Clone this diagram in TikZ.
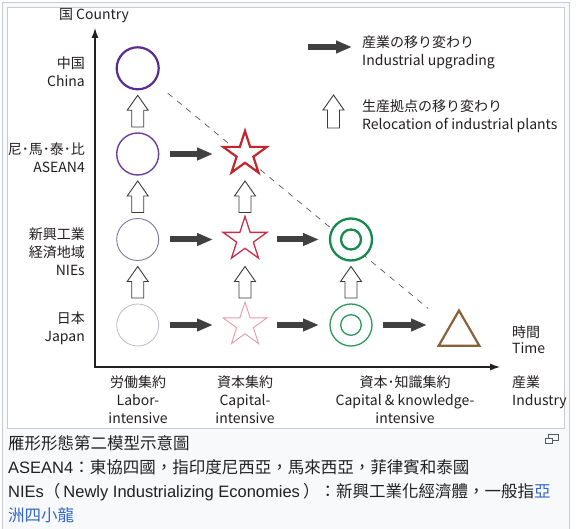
\documentclass[tikz,border=0pt]{standalone}
\usepackage{fontspec}
\setmainfont{Noto Sans CJK JP}
\newfontfamily\capcjk{Noto Sans CJK TC}
\newfontfamily\caplatin{Liberation Sans}
\usepackage{tikz}
\usetikzlibrary{positioning,arrows.meta,shapes.geometric,calc}

\definecolor{inkgrey}{HTML}{231F20}
\definecolor{arrowgrey}{HTML}{404040}
\definecolor{outlinegrey}{HTML}{3A3A3A}
\definecolor{framegrey}{HTML}{C8CCD1}
\definecolor{thumbbg}{HTML}{F8F9FA}
\definecolor{captext}{HTML}{202122}
\definecolor{linkblue}{HTML}{3366CC}
\definecolor{icongrey}{HTML}{54595D}
\definecolor{purpleA}{HTML}{5B2C8F}
\definecolor{purpleB}{HTML}{6B3FA0}
\definecolor{purpleC}{HTML}{7D7AA0}
\definecolor{purpleD}{HTML}{BDBACB}
\definecolor{redA}{HTML}{C1272D}
\definecolor{redB}{HTML}{C8304A}
\definecolor{redC}{HTML}{E59AA8}
\definecolor{greenA}{HTML}{178A4C}
\definecolor{greenB}{HTML}{2E9A5A}
\definecolor{brownA}{HTML}{8A6239}

% hollow block arrow from #1 (foot) to #2 (tip)
\newcommand{\relocarrow}[2]{%
  \draw[relocate] let \p1=#1, \p2=#2 in
    (\x1-6pt,\y1) -- (\x1-6pt,\y2-15pt) -- (\x1-10.5pt,\y2-15pt) -- (\x1,\y2)
    -- (\x1+10.5pt,\y2-15pt) -- (\x1+6pt,\y2-15pt) -- (\x1+6pt,\y1) -- cycle;}

\tikzset{
  lbl/.style={text=inkgrey, inner sep=0pt, font=\fontsize{14}{18}\selectfont},
  captionline/.style={text=captext, inner sep=0pt, font=\fontsize{16.5}{20}\selectfont},
  labour/.style={circle, fill=white, inner sep=0pt, minimum size=42pt},
  capital/.style={star, star points=5, star point ratio=2.618, fill=white, inner sep=0pt, minimum size=46pt},
  knowledge/.style={circle, fill=white, inner sep=0pt, minimum size=42pt},
  mature/.style={regular polygon, regular polygon sides=3, draw=brownA, line width=2.2pt, fill=white, inner sep=0pt, minimum size=47pt},
  upgrade/.style={draw=arrowgrey, line width=6pt, -{Triangle[length=16pt,width=12pt]}},
  between/.style={shorten <=32pt, shorten >=32pt},
  relocate/.style={draw=outlinegrey, line width=0.9pt, fill=white, line join=miter},
  axis/.style={draw=inkgrey, line width=1.2pt},
  trend/.style={draw=inkgrey!75, line width=0.7pt, dash pattern=on 6pt off 6pt}
}

\begin{document}
\begin{tikzpicture}[x=1pt,y=-1pt]
		\useasboundingbox (0,0) rectangle (576,529);

		%frame
		\fill[white] (0,0) rectangle (576,529);
		\draw[framegrey, fill=thumbbg] (2,2) rectangle (569.5,535);
		\draw[framegrey, fill=white] (7,7) rectangle (564.5,428);

		%axes
		\coordinate (ytip) at (95,28);
		\coordinate (origin) at (95,367);
		\coordinate (xtip) at (500,367);
		\draw[axis, {Latex[length=10pt,width=7pt]}-{Latex[length=10pt,width=7pt]}] (ytip) -- (origin) -- (xtip);

		%trend line
		\coordinate (cnpos) at (137.7,68.3);
		\coordinate (jp4pos) at (459,334);
		\draw[trend, shorten <=39pt, shorten >=40pt] (cnpos) -- (jp4pos);

		%labour intensive
		\node[labour, draw=purpleA, line width=2.2pt] (cn) at (cnpos) {};
		\node[labour, draw=purpleB, line width=1.4pt] (as1) at (137.7,154) {};
		\node[labour, draw=purpleC, line width=0.9pt] (ni1) at (137.7,239.5) {};
		\node[labour, draw=purpleD, line width=0.8pt] (jp1) at (137.7,325) {};

		%capital intensive
		\node[capital, draw=redA, line width=2.2pt] (as2) at (245,154) {};
		\node[capital, draw=redB, line width=1.3pt] (ni2) at (245,239.5) {};
		\node[capital, draw=redC, line width=0.9pt] (jp2) at (245,325) {};

		%capital and knowledge intensive
		\node[knowledge, draw=greenA, line width=2.3pt] (ni3) at (351,239.5) {};
		\draw[greenA, line width=2.3pt] (ni3.center) circle (10pt);
		\node[knowledge, draw=greenB, line width=1.3pt] (jp3) at (351,325) {};
		\draw[greenB, line width=1.3pt] (jp3.center) circle (10.3pt);

		%mature
		\node[mature] (jp4) at (jp4pos) {};

		%upgrading
		\draw[upgrade, between] (as1.center) -- (as2.center);
		\draw[upgrade, between] (ni1.center) -- (ni2.center);
		\draw[upgrade, between] (ni2.center) -- (ni3.center);
		\draw[upgrade, between] (jp1.center) -- (jp2.center);
		\draw[upgrade, between] (jp2.center) -- (jp3.center);
		\draw[upgrade, between] (jp3.center) -- (jp3.center -| jp4.center);

		%relocation
		\relocarrow{($(jp1.center)!27pt!(ni1.center)$)}{($(ni1.center)!27pt!(jp1.center)$)}
		\relocarrow{($(ni1.center)!27pt!(as1.center)$)}{($(as1.center)!27pt!(ni1.center)$)}
		\relocarrow{($(as1.center)!27pt!(cn.center)$)}{($(cn.center)!27pt!(as1.center)$)}
		\relocarrow{($(jp2.center)!27pt!(ni2.center)$)}{($(ni2.center)!27pt!(jp2.center)$)}
		\relocarrow{($(ni2.center)!27pt!(as2.center)$)}{($(as2.center)!27pt!(ni2.center)$)}
		\relocarrow{($(jp3.center)!27pt!(ni3.center)$)}{($(ni3.center)!27pt!(jp3.center)$)}

		%legend
		\coordinate (lg1) at (308,47);
		\coordinate (lg2) at (352,47);
		\coordinate (lg3) at (333.5,128);
		\coordinate (lg4) at (333.5,95);
		\draw[upgrade] (lg1) -- (lg2);
		\relocarrow{(lg3)}{(lg4)}
		\node[lbl, align=left, anchor=west] (lgt1) at (362,52) {産業の移り変わり\\Industrial upgrading};
		\node[lbl, align=left, anchor=west] (lgt2) at (362,116) {生産拠点の移り変わり\\Relocation of industrial plants};

		%axis labels
		\node[lbl] (yname) at (94,16) {国 Country};
		\node[lbl, align=right, anchor=east] (ycn) at (85,72) {中国\\China};
		\node[lbl, align=right, anchor=east] (yas) at (85,158) {尼･馬･泰･比\\ASEAN4};
		\node[lbl, align=right, anchor=east] (yni) at (85,252) {新興工業\\経済地域\\NIEs};
		\node[lbl, align=right, anchor=east] (yjp) at (85,328) {日本\\Japan};
		\node[lbl, align=center, anchor=north] (xlab1) at (138,376) {労働集約\\Labor-\\intensive};
		\node[lbl, align=center, anchor=north] (xlab2) at (245,376) {資本集約\\Capital-\\intensive};
		\node[lbl, align=center, anchor=north] (xlab3) at (405,376) {資本･知識集約\\Capital \& knowledge-\\intensive};
		\node[lbl, align=left, anchor=north west] (xname) at (512,376) {産業\\Industry};
		\node[lbl, align=left, anchor=west, font=\fontsize{14}{16}\selectfont] (tname) at (512,339.5) {時間\\Time};

		%caption
		\node[captionline, anchor=west] (cap1) at (8,443) {\capcjk 雁形形態第二模型示意圖};
		\node[captionline, anchor=west] (cap2) at (8,467) {{\caplatin ASEAN4}\capcjk ：東協四國，指印度尼西亞，馬來西亞，菲律賓和泰國};
		\node[captionline, anchor=west] (cap3) at (8,492) {{\caplatin NIEs}{\capcjk （}\hspace{3pt}{\caplatin Newly Industrializing Economies}\hspace{3pt}{\capcjk ）：新興工業化經濟體，一般指}\textcolor{linkblue}{\capcjk 亞}};
		\node[captionline, anchor=west] (cap4) at (8,515) {\textcolor{linkblue}{\capcjk 洲四小龍}};

		%enlarge icon
		\draw[icongrey, line width=1pt] (548.5,434.5) rectangle (558.5,440.5);
		\draw[icongrey, line width=1pt, fill=thumbbg] (545.5,438.5) rectangle (552.5,443.5);
	\end{tikzpicture}
\end{document}
